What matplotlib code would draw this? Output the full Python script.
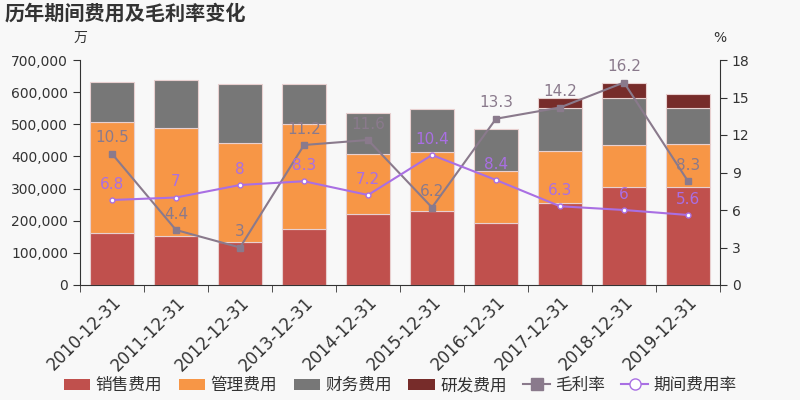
import numpy as np
import matplotlib.pyplot as plt
from matplotlib.lines import Line2D
from matplotlib.patches import Patch
from matplotlib.ticker import FuncFormatter, MultipleLocator

plt.rcParams['font.family'] = ['DejaVu Sans', 'Noto Sans CJK SC']

# data (万元 / %)
years = ['2010-12-31', '2011-12-31', '2012-12-31', '2013-12-31', '2014-12-31',
         '2015-12-31', '2016-12-31', '2017-12-31', '2018-12-31', '2019-12-31']
sales = [162700, 153400, 134800, 174200, 221900, 231200, 193900, 255100, 305900, 305900]
admin = [344400, 336000, 306000, 327700, 185700, 181600, 161700, 161800, 128600, 133700]
finance = [124500, 147400, 184500, 122400, 127500, 133800, 128700, 133800, 146300, 110100]
rnd = [0, 0, 0, 0, 0, 0, 0, 31100, 48700, 44500]
gross_margin = [10.5, 4.4, 3, 11.2, 11.6, 6.2, 13.3, 14.2, 16.2, 8.3]
period_rate = [6.8, 7, 8, 8.3, 7.2, 10.4, 8.4, 6.3, 6, 5.6]

bg = '#f8f8f8'
c_sales, c_admin, c_fin, c_rnd = '#c0504d', '#f79646', '#777777', '#772c2a'
c_gm, c_pr = '#8a7a8c', '#a96fe3'

fig = plt.figure(figsize=(8, 4), dpi=100, facecolor=bg)
ax1 = fig.add_axes([0.1, 0.2875, 0.8, 0.5625], facecolor=bg)
ax2 = ax1.twinx()

x = np.arange(len(years))
w = 0.69
s = np.array(sales); a = np.array(admin); f = np.array(finance); r = np.array(rnd)
kw = dict(width=w, edgecolor='#e8d0d0', linewidth=0.8, zorder=2)
ax1.bar(x, s, color=c_sales, **kw)
ax1.bar(x, a, bottom=s, color=c_admin, **kw)
ax1.bar(x, f, bottom=s + a, color=c_fin, **kw)
ax1.bar(x[r > 0], r[r > 0], bottom=(s + a + f)[r > 0], color=c_rnd, **kw)

ax1.set_xlim(-0.5, len(years) - 0.5)
ax1.set_ylim(0, 700000)
ax1.yaxis.set_major_locator(MultipleLocator(100000))
ax1.yaxis.set_major_formatter(FuncFormatter(lambda v, p: f'{int(v):,}'))
ax1.set_xticks(x)
ax1.set_xticklabels(years, rotation=45, ha='right', rotation_mode='anchor', fontsize=12, color='#333333')
ax1.set_xticks(np.arange(len(years) + 1) - 0.5, minor=True)
ax1.tick_params(axis='x', which='major', length=0, pad=6)
ax1.tick_params(axis='x', which='minor', length=5, color='#333333')
ax1.tick_params(axis='y', labelsize=10, colors='#333333', length=5)
ax1.spines['top'].set_visible(False)
ax1.spines['right'].set_visible(False)
for sp in ['left', 'bottom']:
    ax1.spines[sp].set_color('#333333')

ax2.plot(x, gross_margin, color=c_gm, lw=1.5, marker='s', ms=4, zorder=5)
ax2.plot(x, period_rate, color=c_pr, lw=1.5, marker='o', ms=3.5, mfc='white', mec=c_pr, zorder=5)
for xi, v in zip(x, gross_margin):
    ax2.annotate(f'{v:g}', (xi, v), xytext=(0, 6), textcoords='offset points',
                 ha='center', va='bottom', color=c_gm, fontsize=11, zorder=6)
for xi, v in zip(x, period_rate):
    ax2.annotate(f'{v:g}', (xi, v), xytext=(0, 6), textcoords='offset points',
                 ha='center', va='bottom', color=c_pr, fontsize=11, zorder=6)
ax2.set_ylim(0, 18)
ax2.yaxis.set_major_locator(MultipleLocator(3))
ax2.tick_params(axis='y', labelsize=10, colors='#333333', length=5)
ax2.spines['top'].set_visible(False)
ax2.spines['left'].set_visible(False)
ax2.spines['bottom'].set_visible(False)
ax2.spines['right'].set_color('#333333')

fig.text(0.006, 0.965, '历年期间费用及毛利率变化', fontsize=14.5,
         fontweight='bold', color='#333333', va='center')
fig.text(0.1, 0.905, '万', fontsize=10, color='#333333', ha='center', va='center')
fig.text(0.9, 0.905, '%', fontsize=10, color='#333333', ha='center', va='center')

handles = [Patch(facecolor=c_sales, label='销售费用'),
           Patch(facecolor=c_admin, label='管理费用'),
           Patch(facecolor=c_fin, label='财务费用'),
           Patch(facecolor=c_rnd, label='研发费用'),
           Line2D([], [], color=c_gm, lw=1.5, marker='s', ms=8, label='毛利率'),
           Line2D([], [], color=c_pr, lw=1.5, marker='o', ms=8, mfc='white', label='期间费用率')]
fig.legend(handles=handles, loc='center', bbox_to_anchor=(0.5, 0.037), ncol=6, frameon=False,
           fontsize=12, handlelength=1.6, handletextpad=0.3, columnspacing=1.0, labelcolor='#333333')

fig.savefig('out.png', dpi=100, facecolor=bg)
